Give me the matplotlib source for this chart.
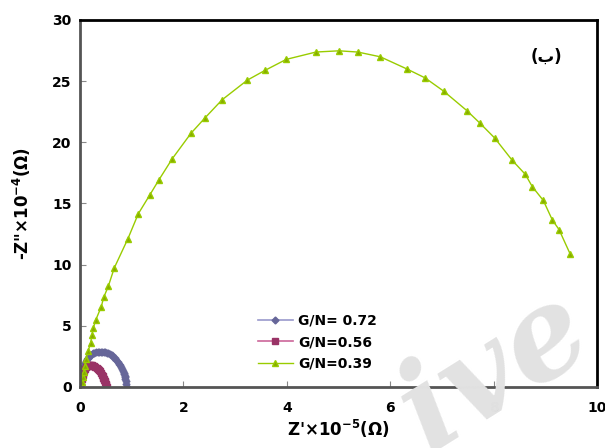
import matplotlib.pyplot as plt

# Nyquist data (Z' x1e-5 ohm, -Z'' x1e-4 ohm)
gn072_x = [0.00, 0.01, 0.02, 0.03, 0.04, 0.05, 0.06, 0.08, 0.10, 0.12, 0.14, 0.16, 0.18, 0.20,
           0.22, 0.25, 0.28, 0.31, 0.34, 0.37, 0.40, 0.43, 0.46, 0.49, 0.52, 0.55, 0.58, 0.61,
           0.64, 0.67, 0.70, 0.73, 0.76, 0.78, 0.80, 0.82, 0.84, 0.85, 0.86, 0.87, 0.88, 0.88,
           0.89, 0.89, 0.90]
gn072_y = [0.00, 0.25, 0.50, 0.75, 0.98, 1.20, 1.40, 1.70, 1.93, 2.12, 2.28, 2.40, 2.50, 2.58,
           2.65, 2.74, 2.80, 2.85, 2.88, 2.90, 2.90, 2.90, 2.88, 2.85, 2.81, 2.75, 2.68, 2.59,
           2.49, 2.37, 2.23, 2.07, 1.90, 1.76, 1.62, 1.46, 1.30, 1.18, 1.05, 0.92, 0.78, 0.64,
           0.48, 0.25, 0.00]

gn056_x = [0.00, 0.01, 0.02, 0.03, 0.04, 0.05, 0.06, 0.08, 0.10, 0.12, 0.14, 0.16, 0.18, 0.20,
           0.22, 0.24, 0.26, 0.28, 0.30, 0.32, 0.34, 0.36, 0.38, 0.40, 0.42, 0.44, 0.45, 0.46,
           0.47, 0.48, 0.49, 0.50, 0.51, 0.52]
gn056_y = [0.00, 0.22, 0.44, 0.64, 0.82, 0.98, 1.12, 1.34, 1.50, 1.61, 1.68, 1.73, 1.76, 1.77,
           1.77, 1.76, 1.74, 1.70, 1.65, 1.58, 1.50, 1.40, 1.29, 1.16, 1.02, 0.86, 0.77, 0.68,
           0.58, 0.48, 0.37, 0.25, 0.13, 0.00]

gn039_x = [0.00, 0.01, 0.03, 0.05, 0.07, 0.091, 0.116, 0.161, 0.207, 0.232, 0.257, 0.304, 0.412,
           0.458, 0.547, 0.663, 0.928, 1.128, 1.348, 1.528, 1.785, 2.147, 2.412, 2.747, 3.236,
           3.578, 3.990, 4.565, 5.010, 5.371, 5.809, 6.331, 6.673, 7.035, 7.480, 7.737, 8.021,
           8.356, 8.613, 8.749, 8.961, 9.135, 9.265, 9.484]
gn039_y = [0.00, 0.10, 0.40, 0.80, 1.20, 1.75, 2.27, 2.98, 3.63, 4.26, 4.81, 5.47, 6.56,
           7.32, 8.22, 9.73, 12.13, 14.16, 15.68, 16.94, 18.66, 20.74, 21.97, 23.47, 25.08,
           25.88, 26.78, 27.38, 27.48, 27.38, 26.99, 25.98, 25.27, 24.18, 22.60, 21.56, 20.35,
           18.55, 17.38, 16.37, 15.25, 13.66, 12.87, 10.84]

fig = plt.figure(figsize=(6.05, 4.48), dpi=100)
ax = fig.add_axes([0.1322, 0.1362, 0.8546, 0.8192])

# faint watermark behind everything
fig.text(0.818, 0.17, "ive", fontsize=90, family="DejaVu Serif", style="italic",
         weight="bold", color="#e2e2e2", rotation=32, ha="center", va="center", zorder=0)
ax.patch.set_alpha(0)

ax.plot(gn072_x, gn072_y, color="#9999cc", linewidth=1.2, marker="D", markersize=3.5,
        markerfacecolor="#666699", markeredgecolor="#666699", label="G/N= 0.72")
ax.plot(gn056_x, gn056_y, color="#cc6699", linewidth=1.2, marker="s", markersize=4,
        markerfacecolor="#993366", markeredgecolor="#993366", label="G/N=0.56")
ax.plot(gn039_x, gn039_y, color="#99cc00", linewidth=1.0, marker="^", markersize=5,
        markerfacecolor="#88aa00", markeredgecolor="#99cc00", label="G/N=0.39")

ax.set_xlim(0, 10)
ax.set_ylim(0, 30)
ax.set_xticks([0, 2, 4, 6, 8, 10])
ax.set_yticks([0, 5, 10, 15, 20, 25, 30])
ax.tick_params(direction="in", length=4, width=0.8, color="#888888", labelsize=10, pad=6)
for lbl in ax.get_xticklabels() + ax.get_yticklabels():
    lbl.set_fontweight("bold")
ax.tick_params(axis="x", pad=10)

for side in ["top", "right"]:
    ax.spines[side].set_linewidth(2)
    ax.spines[side].set_color("black")
for side in ["left", "bottom"]:
    ax.spines[side].set_linewidth(2)
    ax.spines[side].set_color("#555555")

ax.set_xlabel("Z'×10$^{\\mathbf{-5}}$(Ω)", fontsize=12, fontweight="bold", labelpad=2)
ax.set_ylabel('-Z"×10$^{\\mathbf{-4}}$(Ω)', fontsize=12, fontweight="bold", labelpad=14)

ax.text(0.903, 0.9, "(ب)", transform=ax.transAxes, fontsize=12, fontweight="bold",
        ha="center", va="center")

ax.legend(loc="lower left", bbox_to_anchor=(0.32, 0.01), frameon=False,
          prop={"weight": "bold", "size": 10}, handlelength=2.5, handletextpad=0.4,
          labelspacing=0.55)

fig.savefig("out.png", dpi=100)
